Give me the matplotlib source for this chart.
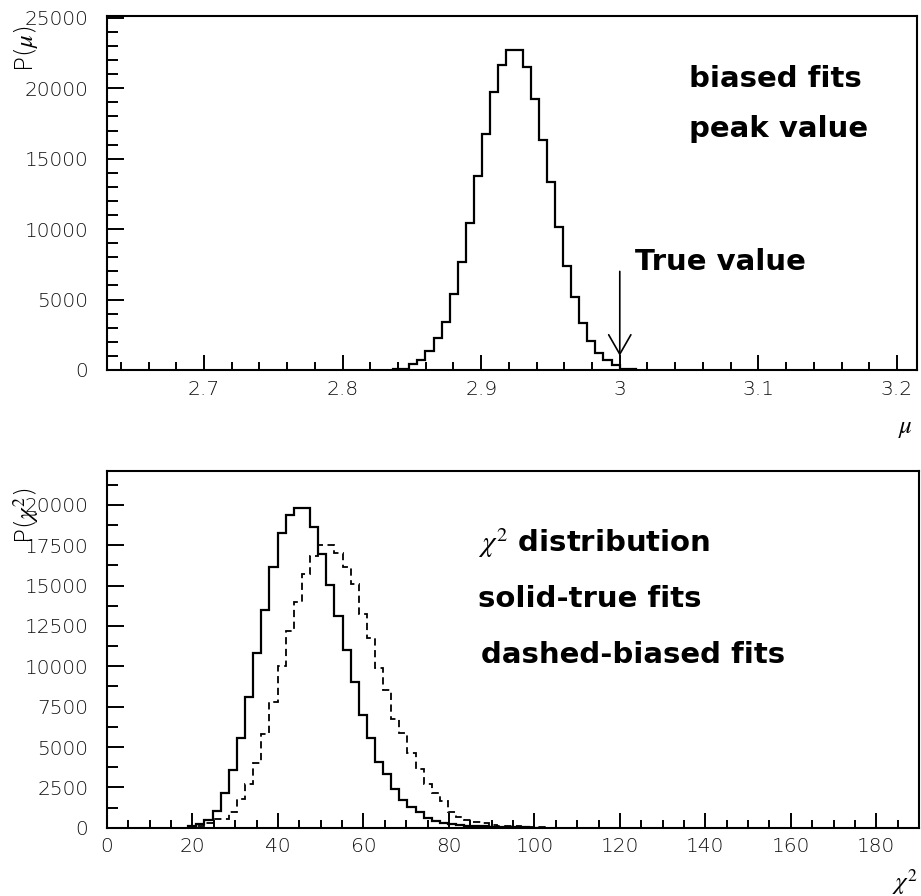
import matplotlib as mpl
mpl.use('Agg')
import matplotlib.pyplot as plt
import numpy as np
from matplotlib.ticker import MultipleLocator, FuncFormatter

# peak value of the biased fits, 100 bins over the mu axis (only filled bins kept)
mu_first_edge = 2.8364
mu_bin = 0.00584
mu_counts = [100, 100, 400, 710, 1350, 2250, 3430, 5400, 7700, 10470,
             13790, 16780, 19720, 21690, 22700, 22700, 21530, 19250, 16360, 13320,
             10150, 7400, 5170, 3320, 2080, 1190, 710, 360, 80, 80]
true_mu = 3.0

# chi2 of the fits, 100 bins from 0 to 190 (only filled bins kept)
chi2_first_edge = 19.0
chi2_bin = 1.9
chi2_true = [100, 200, 450, 1050, 2150, 3580, 5560, 8080, 10850, 13500,
             16160, 18270, 19360, 19840, 19780, 18660, 16970, 15050, 13130, 11000,
             9050, 6990, 5580, 4090, 3330, 2380, 1720, 1300, 980, 600,
             420, 320, 230, 170, 130, 100, 80, 60, 50, 40,
             30, 20, 0, 0]
chi2_biased = [50, 100, 270, 540, 560, 990, 1760, 2700, 3990, 5810,
               7810, 10040, 12210, 14010, 15730, 16850, 17500, 17500, 17050, 16160,
               15110, 13250, 11780, 9900, 8520, 6740, 5850, 4620, 3620, 2730,
               2130, 1650, 1000, 640, 480, 370, 270, 170, 130, 110,
               90, 60, 40, 20]

plt.rcParams['font.family'] = 'DejaVu Sans'
plt.rcParams['font.weight'] = 'light'
plt.rcParams['mathtext.fontset'] = 'stix'

mu_edges = mu_first_edge + mu_bin * np.arange(len(mu_counts) + 1)
chi2_edges = chi2_first_edge + chi2_bin * np.arange(len(chi2_true) + 1)

fig = plt.figure(figsize=(9.21, 8.96), dpi=100)
ax1 = fig.add_axes([0.1162, 0.5871, 0.8795, 0.3951])
ax2 = fig.add_axes([0.1162, 0.0762, 0.8817, 0.3981])


def style(ax):
    for s in ax.spines.values():
        s.set_linewidth(1.5)
    ax.tick_params(which='both', direction='in', top=False, right=False,
                   width=1.4, labelsize=14.5, labelcolor='#111111')
    ax.tick_params(axis='y', which='major', length=12, pad=13.5)
    ax.tick_params(axis='y', which='minor', length=8)
    ax.tick_params(axis='x', which='major', length=10.8, pad=7)
    ax.tick_params(axis='x', which='minor', length=5.8)
    ax.xaxis.set_major_formatter(FuncFormatter(lambda v, pos: '%g' % round(v, 6)))
    ax.yaxis.set_major_formatter(FuncFormatter(lambda v, pos: '%d' % round(v)))


### 1) peak value of the biased fits
ax1.stairs(mu_counts, mu_edges, color='black', lw=1.6)
ax1.set_xlim(2.63, 3.2145)
ax1.set_ylim(0, 25140)
ax1.xaxis.set_major_locator(MultipleLocator(0.1))
ax1.xaxis.set_minor_locator(MultipleLocator(0.02))
ax1.yaxis.set_major_locator(MultipleLocator(5000))
ax1.yaxis.set_minor_locator(MultipleLocator(1000))
style(ax1)

ax1.annotate('', xy=(true_mu, 1000), xytext=(true_mu, 7000),
             arrowprops=dict(arrowstyle='->,head_length=0.7,head_width=0.4',
                             lw=1.2, color='black', mutation_scale=20,
                             shrinkA=0, shrinkB=0))
ax1.text(3.011, 7110, 'True value', fontsize=21, fontweight='bold', va='baseline')
ax1.text(3.050, 20120, 'biased fits', fontsize=21, fontweight='bold', va='baseline')
ax1.text(3.050, 16570, 'peak value', fontsize=21, fontweight='bold', va='baseline')

### 2) chi2 distributions
ax2.stairs(chi2_true, chi2_edges, color='black', lw=1.6)
ax2.stairs(chi2_biased, chi2_edges, color='black', lw=1.3, linestyle=(0, (4, 2.5)))
ax2.set_xlim(0, 190)
ax2.set_ylim(0, 22100)
ax2.xaxis.set_major_locator(MultipleLocator(20))
ax2.xaxis.set_minor_locator(MultipleLocator(5))
ax2.yaxis.set_major_locator(MultipleLocator(2500))
ax2.yaxis.set_minor_locator(MultipleLocator(1250))
style(ax2)

ax2.text(86.9, 17090, r'$\chi^2$ distribution', fontsize=21, fontweight='bold', va='baseline')
ax2.text(86.9, 13680, 'solid-true fits', fontsize=21, fontweight='bold', va='baseline')
ax2.text(87.4, 10210, 'dashed-biased fits', fontsize=21, fontweight='bold', va='baseline')

# axis titles, placed like the original (they sit over the top tick label there too)
fig.text(26 / 921, 1 - 48 / 896, r'P($\mu$)', rotation=90, ha='center', va='center', fontsize=18)
fig.text(26 / 921, 1 - 516 / 896, r'P($\chi^2$)', rotation=90, ha='center', va='center', fontsize=18)
fig.text(905 / 921, 1 - 428 / 896, r'$\mu$', ha='center', va='center', fontsize=18)
fig.text(905 / 921, 1 - 882 / 896, r'$\chi^2$', ha='center', va='center', fontsize=18)

fig.savefig('out.png', dpi=100)
